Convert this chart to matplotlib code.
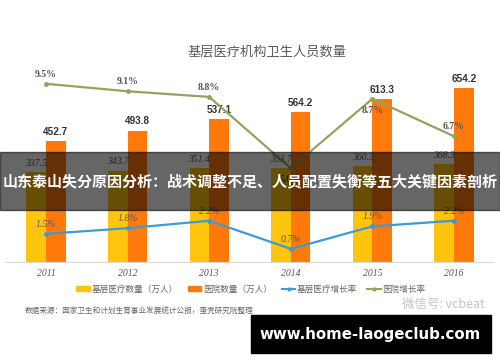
import numpy as np
import matplotlib.pyplot as plt
from matplotlib.patches import Rectangle, Patch
from matplotlib.lines import Line2D

plt.rcParams['font.family'] = ['Noto Sans CJK SC', 'DejaVu Sans']

years = ['2011', '2012', '2013', '2014', '2015', '2016']
base_cnt = [337.5, 343.7, 351.4, 353.7, 360.3, 368.3]
hosp_cnt = [452.7, 493.8, 537.1, 564.2, 613.3, 654.2]
base_rate = [1.5, 1.8, 2.2, 0.7, 1.9, 2.2]
hosp_rate = [9.5, 9.1, 8.8, 5.0, 8.7, 6.7]
hosp_label_below = [False, False, False, True, True, False]

c_yel = '#FFC40C'
c_org = '#FF7A0A'
c_blue = '#3E9AD2'
c_green = '#9AA05C'
serif = ['Liberation Serif', 'DejaVu Serif']
narrow = ['Liberation Sans Narrow', 'Liberation Sans', 'DejaVu Sans']

W, H = 500, 362
fig = plt.figure(figsize=(W / 100, H / 100), dpi=100)

def fx(px):
    return px / W

def fy(py):
    return 1 - py / H

ax = fig.add_axes([fx(5), fy(262), fx(488), fy(65) - fy(262)])
x = np.arange(len(years))
bw = 0.24
ax.bar(x - bw / 2, base_cnt, bw, color=c_yel, zorder=2)
ax.bar(x + bw / 2, hosp_cnt, bw, color=c_org, zorder=2)
ax.set_xlim(-0.502, 5.478)
ax.set_ylim(0, 740)
for i in range(len(years)):
    ax.annotate('%.1f' % hosp_cnt[i], (x[i] + bw / 2, hosp_cnt[i]), xytext=(0, 3),
                textcoords='offset points', ha='center', va='bottom', fontsize=7.2,
                fontweight='bold', color='#333333', family=narrow)
    ax.annotate('%.1f' % base_cnt[i], (x[i] - bw / 2, base_cnt[i]), xytext=(0, 3),
                textcoords='offset points', ha='center', va='bottom', fontsize=7,
                fontstyle='italic', color='#555555', family=serif)

for s in ['top', 'right', 'left']:
    ax.spines[s].set_visible(False)
ax.spines['bottom'].set_color('#d9d9d9')
ax.set_yticks([])
ax.set_xticks(x)
ax.set_xticklabels(years, fontstyle='italic', family=serif, fontsize=7, color='#555555')
ax.tick_params(axis='x', length=0, pad=5)

ax2 = ax.twinx()
ax2.set_ylim(0, 10.5)
ax2.axis('off')
ax2.plot(x, base_rate, color=c_blue, lw=1.6, marker='o', ms=2.5, zorder=3)
ax2.plot(x, hosp_rate, color=c_green, lw=1.6, marker='o', ms=2.5, zorder=3)
for i in range(len(years)):
    ax2.annotate('%.1f%%' % base_rate[i], (x[i], base_rate[i]), xytext=(0, 3.5),
                 textcoords='offset points', ha='center', va='bottom', fontsize=7,
                 fontstyle='italic', color='#555555', family=serif)
    dy = -5 if hosp_label_below[i] else 3.5
    ax2.annotate('%.1f%%' % hosp_rate[i], (x[i], hosp_rate[i]), xytext=(0, dy),
                 textcoords='offset points', ha='center',
                 va='top' if hosp_label_below[i] else 'bottom', fontsize=7,
                 fontweight='bold', color='#555555', family=serif)

fig.text(fx(267), fy(52), '基层医疗机构卫生人员数量', ha='center', va='center',
         fontsize=9.5, color='#5a5a5a')

handles = [Patch(color=c_yel), Patch(color=c_org),
           Line2D([], [], color=c_blue, lw=1.5, marker='o', ms=2),
           Line2D([], [], color=c_green, lw=1.5, marker='o', ms=2)]
labels = ['基层医疗数量（万人）', '医院数量（万人）', '基层医疗增长率', '医院增长率']
fig.legend(handles, labels, loc='center', bbox_to_anchor=(fx(251), fy(289)), ncol=4,
           frameon=False, fontsize=6.2, labelcolor='#666666', handlelength=1.6,
           handleheight=0.6, handletextpad=0.2, columnspacing=1.1)

fig.text(fx(25), fy(312), '数据来源：国家卫生和计划生育事业发展统计公报，蛋壳研究院整理',
         ha='left', va='center', fontsize=5.5, color='#666666')
fig.text(fx(402), fy(304), '微信号: vcbeat', ha='left', va='center', fontsize=9,
         color='#c4c4c4')

# overlay banner and site bar
fig.patches.append(Rectangle((0, fy(210)), 1, fy(152) - fy(210), transform=fig.transFigure,
                             color='black', alpha=0.6, zorder=10))
fig.text(0.5, fy(181), '山东泰山失分原因分析：战术调整不足、人员配置失衡等五大关键因素剖析',
         ha='center', va='center', fontsize=10.8, fontweight='bold', color='white', zorder=11)
fig.patches.append(Rectangle((fx(251), fy(353)), fx(240), fy(315) - fy(353),
                             transform=fig.transFigure, color='black', zorder=10))
fig.text(fx(370), fy(334), 'www.home-laogeclub.com', ha='center', va='center',
         fontsize=10.8, fontweight='bold', color='white', family=['DejaVu Sans'], zorder=11)

fig.savefig('out.png', dpi=100)
